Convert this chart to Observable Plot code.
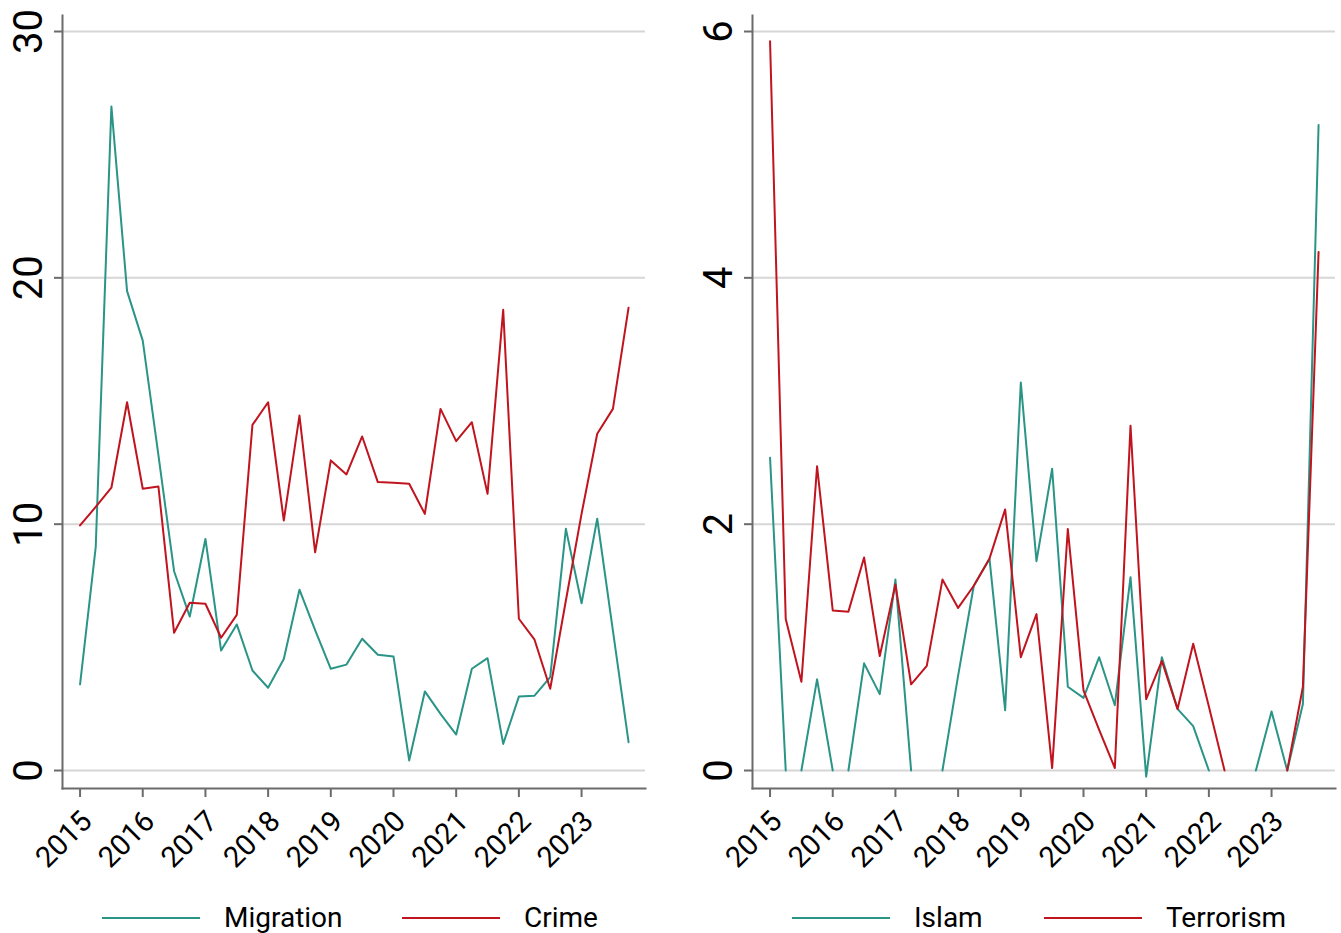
<!DOCTYPE html>
<html>
<head>
<meta charset="utf-8">
<script src="https://cdn.jsdelivr.net/npm/d3@7"></script>
<script src="https://cdn.jsdelivr.net/npm/@observablehq/plot@0.6"></script>
<style>
  html, body { margin: 0; padding: 0; background: #fff; }
  #wrap { position: relative; width: 1341px; height: 933px; font-family: Roboto, sans-serif; }
  #left { position: absolute; left: 0; top: 0; }
  #right { position: absolute; left: 670px; top: 0; }
  .leg { position: absolute; top: 891px; height: 53px; display: flex; align-items: center; font-size: 28px; color: #000; }
  .sw { display: inline-block; width: 98px; height: 0; border-top: 2px solid; margin-right: 24px; }
</style>
</head>
<body>
<div id="wrap">
  <div id="left"></div>
  <div id="right"></div>
</div>
<script>
const quarters = ["2015Q1","2015Q2","2015Q3","2015Q4","2016Q1","2016Q2","2016Q3","2016Q4",
  "2017Q1","2017Q2","2017Q3","2017Q4","2018Q1","2018Q2","2018Q3","2018Q4",
  "2019Q1","2019Q2","2019Q3","2019Q4","2020Q1","2020Q2","2020Q3","2020Q4",
  "2021Q1","2021Q2","2021Q3","2021Q4","2022Q1","2022Q2","2022Q3","2022Q4",
  "2023Q1","2023Q2","2023Q3","2023Q4"];

const migration = [3.5, 9.07, 26.96, 19.46, 17.45, 12.8, 8.09, 6.25, 9.4, 4.87, 5.93, 4.06,
  3.36, 4.53, 7.34, 5.7, 4.13, 4.3, 5.35, 4.7, 4.63, 0.41, 3.21, 2.3,
  1.46, 4.13, 4.56, 1.08, 3.0, 3.04, 3.79, 9.81, 6.79, 10.22, 5.68, 1.15];
const crime = [9.95, 10.7, 11.48, 14.95, 11.44, 11.53, 5.59, 6.81, 6.77, 5.39, 6.32, 14.03,
  14.95, 10.15, 14.41, 8.86, 12.59, 12.02, 13.56, 11.71, 11.68, 11.64, 10.42, 14.68,
  13.37, 14.14, 11.23, 18.7, 6.16, 5.31, 3.32, 6.9, 10.42, 13.67, 14.68, 18.79];
const islam = [2.54, 0, 0, 0.74, 0, 0, 0.87, 0.62, 1.55, 0, 0, 0,
  0.77, 1.5, 1.72, 0.49, 3.15, 1.70, 2.45, 0.68, 0.59, 0.92, 0.53, 1.57,
  -0.05, 0.92, 0.5, 0.36, 0, 0, 0, 0, 0.48, 0, 0.54, 5.24];
const terrorism = [5.92, 1.23, 0.72, 2.47, 1.30, 1.29, 1.73, 0.93, 1.51, 0.70, 0.85, 1.55,
  1.32, 1.5, 1.72, 2.12, 0.92, 1.27, 0.02, 1.96, 0.65, 0.33, 0.02, 2.80,
  0.58, 0.89, 0.5, 1.03, 0.52, 0, 0, 0, 0, 0, 0.68, 4.21];

const xTicks = [2015, 2016, 2017, 2018, 2019, 2020, 2021, 2022, 2023];
const yTicksLeft = [0, 10, 20, 30];
const yTicksRight = [0, 2, 4, 6];
const seriesLeft = ["Migration", "Crime"];
const seriesRight = ["Islam", "Terrorism"];
const colors = ["#2a9486", "#c0141f"];

const toYear = q => +q.slice(0, 4) + (+q.slice(5) - 1) / 4;

// Stretches where consecutive quarters are both zero are not drawn (line breaks).
function buildRows(name, vals) {
  const rows = [];
  let seg = 0;
  vals.forEach((v, i) => {
    if (i > 0 && vals[i - 1] === 0 && v === 0) seg++;
    rows.push({t: toYear(quarters[i]), v, series: name, key: name + "-" + seg});
  });
  const counts = d3.rollup(rows, g => g.length, d => d.key);
  return rows.filter(d => counts.get(d.key) > 1);
}

const FONT = "Roboto, sans-serif";
const AXIS = "#6b6b6b";

function panel({width, marginLeft, marginRight, yDomain, yTicks, names, series}) {
  const rows = names.flatMap((n, k) => buildRows(n, series[k]));
  return Plot.plot({
    width, height: 880,
    marginLeft, marginRight, marginTop: 15, marginBottom: 92,
    x: {type: "linear", domain: [2014.72, 2024.02]},
    y: {domain: yDomain},
    color: {domain: names, range: colors},
    style: {fontFamily: FONT, color: "#000", background: "#fff", overflow: "visible"},
    marks: [
      Plot.gridY(yTicks, {stroke: "#d6d6d6", strokeOpacity: 1, strokeWidth: 2}),
      Plot.frame({anchor: "left", stroke: AXIS, strokeWidth: 2}),
      Plot.frame({anchor: "bottom", stroke: AXIS, strokeWidth: 2}),
      Plot.axisY(yTicks, {tickSize: 8, tickFormat: () => "", stroke: AXIS, strokeWidth: 2, label: null}),
      Plot.text(yTicks, {y: d => d, text: d => String(d), frameAnchor: "left", dx: -33,
        rotate: -90, lineAnchor: "middle", textAnchor: "middle", fontSize: 40, fill: "#000"}),
      Plot.axisX(xTicks, {tickSize: 9, tickFormat: () => "", stroke: AXIS, strokeWidth: 2, label: null}),
      Plot.axisX(xTicks, {tickSize: 0, tickRotate: -45, tickFormat: d => String(d), fontSize: 29,
        tickPadding: 24, dx: 7, dy: 4, label: null, fill: "#000"}),
      Plot.lineY(rows, {x: "t", y: "v", z: "key", stroke: "series", strokeWidth: 2})
    ]
  });
}

document.getElementById("left").append(panel({
  width: 670, marginLeft: 62, marginRight: 25,
  yDomain: [-0.73, 30.65], yTicks: yTicksLeft, names: seriesLeft, series: [migration, crime]
}));
document.getElementById("right").append(panel({
  width: 671, marginLeft: 82, marginRight: 6,
  yDomain: [-0.146, 6.13], yTicks: yTicksRight, names: seriesRight, series: [islam, terrorism]
}));

function legend(names, positions) {
  const wrap = document.getElementById("wrap");
  names.forEach((n, k) => {
    const d = document.createElement("div");
    d.className = "leg";
    d.style.left = positions[k] + "px";
    const sw = document.createElement("span");
    sw.className = "sw";
    sw.style.borderColor = colors[k];
    const tx = document.createElement("span");
    tx.textContent = n;
    d.append(sw, tx);
    wrap.append(d);
  });
}
legend(seriesLeft, [102, 402]);
legend(seriesRight, [792, 1044]);
</script>
</body>
</html>
